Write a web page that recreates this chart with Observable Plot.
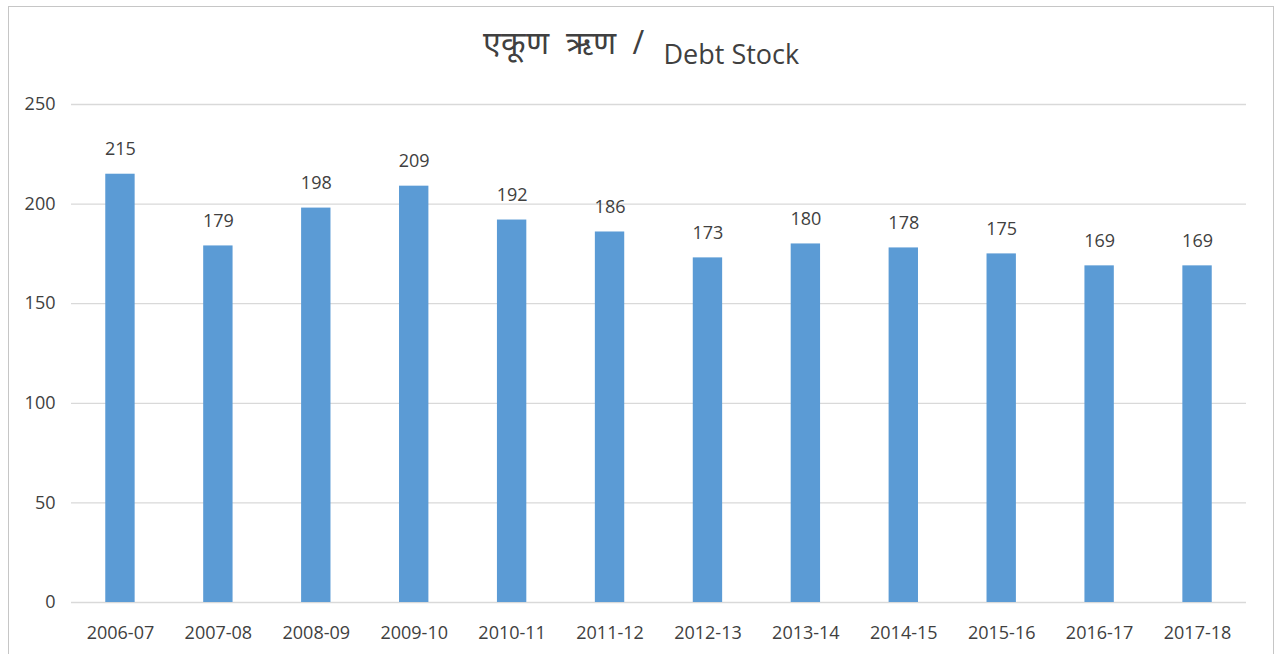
<!DOCTYPE html>
<html>
<head>
<meta charset="utf-8">
<script src="https://cdn.jsdelivr.net/npm/d3@7"></script>
<script src="https://cdn.jsdelivr.net/npm/@observablehq/plot@0.6"></script>
<style>
  html, body { margin: 0; padding: 0; background: #fff; width: 1275px; height: 654px; overflow: hidden; }
  #frame { position: absolute; left: 8px; top: 6px; width: 1266px; height: 700px; box-sizing: border-box; border: 1px solid #c6c6c6; pointer-events: none; }
  #title { position: absolute; left: 8px; top: 27px; width: 1266px; text-align: center; font-family: "Open Sans", sans-serif; font-size: 27px; line-height: 30px; color: #404040; white-space: pre; }
  #title .mr { font-size: 32px; font-weight: 400; vertical-align: 10px; word-spacing: 9px; }
  #title .sl { font-size: 32px; vertical-align: 10px; margin-left: 8px; margin-right: 4px; }
  #chart { position: absolute; left: 0; top: 80px; }
</style>
</head>
<body>
<div id="title"><span class="mr">एकूण ऋण</span><span class="sl"> / </span> Debt Stock</div>
<div id="chart"></div>
<div id="frame"></div>
<script>
const years = ["2006-07","2007-08","2008-09","2009-10","2010-11","2011-12","2012-13","2013-14","2014-15","2015-16","2016-17","2017-18"];
const values = [215,179,198,209,192,186,173,180,178,175,169,169];
const yTicks = [0,50,100,150,200,250];

const data = years.map((year, i) => ({year, value: values[i]}));

const chart = Plot.plot({
  width: 1275,
  height: 574,
  marginLeft: 71,
  marginRight: 29,
  marginTop: 24,
  marginBottom: 52,
  style: {fontFamily: "'Open Sans', sans-serif", fontSize: "18px", color: "#595959", background: "transparent"},
  x: {domain: years, paddingInner: 0.7, paddingOuter: 0.35, round: false, label: null},
  y: {domain: [0, 250], label: null},
  marks: [
    Plot.ruleY(yTicks, {stroke: "#d9d9d9", strokeWidth: 1.3}),
    Plot.barY(data, {x: "year", y: "value", fill: "#5b9bd5"}),
    Plot.text(data, {x: "year", y: "value", text: d => String(d.value), dy: -19, lineAnchor: "bottom", fill: "#404040", fontSize: 18}),
    Plot.axisX({tickSize: 0, tickPadding: 24, fill: "#404040", fontSize: 18, label: null}),
    Plot.axisY({ticks: yTicks, tickSize: 0, tickPadding: 16, fill: "#404040", fontSize: 18, label: null})
  ]
});
document.getElementById("chart").appendChild(chart);
</script>
</body>
</html>
